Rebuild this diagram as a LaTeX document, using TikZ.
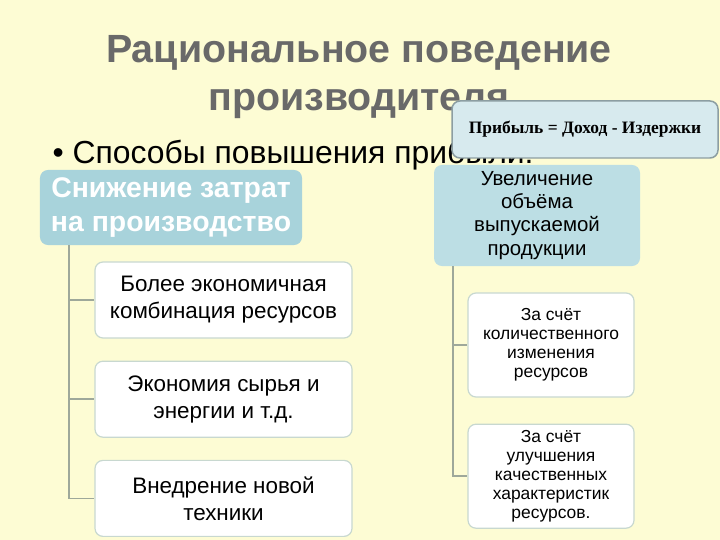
\documentclass[tikz,border=0pt]{standalone}
\usepackage{fontspec}
\setmainfont{Liberation Sans}
\newfontfamily\formulafont{Liberation Serif}
\definecolor{SlideYellow}{RGB}{253,252,212}
\definecolor{TitleGrey}{RGB}{105,105,105}
\definecolor{HeadTeal}{RGB}{168,211,219}
\definecolor{HeadLight}{RGB}{188,222,228}
\definecolor{NoteBlue}{RGB}{215,234,238}
\definecolor{NoteEdge}{RGB}{140,158,162}
\definecolor{LeafEdge}{RGB}{200,216,208}
\definecolor{LinkGrey}{RGB}{158,168,154}
\usetikzlibrary{positioning}

\begin{document}
\begin{tikzpicture}[x=1bp, y=-1bp,
    headbox/.style={rounded corners=8pt, fill=HeadTeal, inner sep=2pt, align=center},
    leafbox/.style={draw=LeafEdge, line width=1.2pt, rounded corners=8pt, fill=white, inner sep=2pt, align=center},
    link/.style={draw=LinkGrey, line width=1.6pt}]
    \fill[SlideYellow] (0,0) rectangle (720,540);

    \node[TitleGrey, font=\fontsize{39.5}{49}\selectfont\bfseries, align=center] (title) at (359,77) {Рациональное поведение\\производителя};
    \node[anchor=base west, font=\fontsize{32}{38}\selectfont] (ways) at (49,164) {\textbullet\ Способы повышения прибыли:};

    % left branch
    \node[headbox, text=white, minimum width=262bp, minimum height=75bp, font=\fontsize{28.5}{34}\selectfont\bfseries] (cut) at (171,207.5) {Снижение затрат\\на производство};
    \node[leafbox, minimum width=257bp, minimum height=76bp, font=\fontsize{22.5}{27}\selectfont] (c1) at (223.5,300) {Более экономичная\\комбинация ресурсов};
    \node[leafbox, minimum width=257bp, minimum height=76bp, font=\fontsize{22.5}{27}\selectfont, below=22bp of c1] (c2) {Экономия сырья и\\энергии и т.д.};
    \node[leafbox, minimum width=257bp, minimum height=76bp, font=\fontsize{22.5}{27}\selectfont, below=22bp of c2] (c3) {Внедрение новой\\техники};

    \draw[link] ([xshift=29bp]cut.south west) |- (c1.west);
    \draw[link] ([xshift=29bp]cut.south west) |- (c2.west);
    \draw[link] ([xshift=29bp]cut.south west) |- (c3.west);

    % right branch
    \node[headbox, fill=HeadLight, minimum width=206bp, minimum height=101bp, font=\fontsize{20.5}{23.2}\selectfont] (grow) at (537,215.5) {Увеличение\\объёма\\выпускаемой\\продукции};
    \node[leafbox, minimum width=166bp, minimum height=104bp, font=\fontsize{17.5}{19.2}\selectfont] (r1) at (551,345) {За счёт\\количественного\\изменения\\ресурсов};
    \node[leafbox, minimum width=166bp, minimum height=104bp, font=\fontsize{17.5}{19.2}\selectfont, below=26bp of r1] (r2) {За счёт\\улучшения\\качественных\\характеристик\\ресурсов.};

    \draw[link] ([xshift=19bp]grow.south west) |- (r1.west);
    \draw[link] ([xshift=19bp]grow.south west) |- (r2.west);

    % profit formula
    \node[draw=NoteEdge, line width=1.5pt, rounded corners=8pt, fill=NoteBlue, minimum width=266bp, minimum height=57bp, font=\formulafont\fontsize{17.5}{20}\selectfont\bfseries] (profit) at (585,129.5) {Прибыль = Доход - Издержки};
\end{tikzpicture}
\end{document}
